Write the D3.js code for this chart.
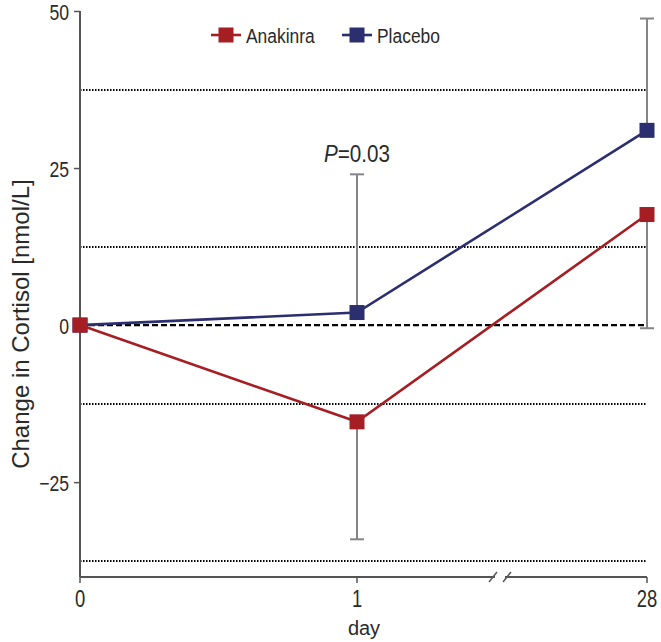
<!DOCTYPE html>
<html><head><meta charset="utf-8">
<script src="https://cdn.jsdelivr.net/npm/d3@7"></script>
<style>body{margin:0;background:#fff}svg{display:block}</style>
</head><body>
<script>
const days = ["0", "1", "28"];
const anakinra = [0, -15.4, 17.6];
const placebo = [0, 2.0, 31.0];
const anakinraErrLow = [null, -34.1, -0.5];
const placeboErrHigh = [null, 24.0, 48.8];
const yTicks = [-25, 0, 25, 50];
const refLines = [37.5, 12.5, -12.5, -37.5];

const W = 661, H = 642;
const svg = d3.select("body").append("svg").attr("width", W).attr("height", H);
const font = "'Liberation Sans', Arial, sans-serif";
const red = "#a51e24", navy = "#2b2e6f", gray = "#858585", axisCol = "#555", txt = "#2a2a2a";

const y = d3.scaleLinear().domain([-40.1, 50]).range([577, 11]);
const x = d3.scaleLinear().domain([0, 1, 2]).range([80, 357, 647]);

// reference lines
svg.selectAll(".ref").data(refLines).join("line")
  .attr("x1", x(0)).attr("x2", x(2)).attr("y1", d => Math.round(y(d))).attr("y2", d => Math.round(y(d)))
  .attr("stroke", "#000").attr("stroke-width", 2).attr("stroke-dasharray", "1.5,1.5");
svg.append("line").attr("x1", x(0)).attr("x2", x(2)).attr("y1", y(0)).attr("y2", y(0))
  .attr("stroke", "#000").attr("stroke-width", 2.4).attr("stroke-dasharray", "6,3");

// y axis
const sx = 0.8;
const yAxis = svg.append("g").attr("transform", `translate(${x(0)},0)`)
  .call(d3.axisLeft(y).tickValues(yTicks).tickSize(6).tickPadding(5)
    .tickFormat(d => d < 0 ? "\u2212" + Math.abs(d) : d));
yAxis.select(".domain").attr("stroke", axisCol).attr("stroke-width", 2).attr("d", `M0,${y(50)}V${y(-40.1)}`);
yAxis.selectAll(".tick line").attr("stroke", axisCol).attr("stroke-width", 1.5);
yAxis.selectAll("text").attr("font-family", font).attr("font-size", 22).attr("fill", txt)
  .attr("x", -11 / sx).attr("dy", "0.38em").attr("transform", `scale(${sx},1)`);

// x axis
const xAxisG = svg.append("g").attr("transform", `translate(0,${y(-40.1)})`);
const breakX = [493, 507];
xAxisG.append("path").attr("d", `M${x(0)},0H${breakX[0]+2}M${breakX[1]-2},0H${x(2)}`)
  .attr("stroke", axisCol).attr("stroke-width", 2).attr("fill", "none");
breakX.forEach(bx => xAxisG.append("line").attr("x1", bx - 4).attr("x2", bx + 4).attr("y1", 5).attr("y2", -5)
  .attr("stroke", axisCol).attr("stroke-width", 1.5));
const xt = xAxisG.selectAll(".xt").data(days).join("g").attr("transform", (d, i) => `translate(${x(i)},0)`);
xt.append("line").attr("y1", 0).attr("y2", 6).attr("stroke", axisCol).attr("stroke-width", 1.5);
xt.append("text").attr("y", 30).attr("transform", `scale(${sx},1)`).attr("text-anchor", "middle")
  .attr("font-family", font).attr("font-size", 23).attr("fill", txt).text(d => d);

// labels
svg.append("text").attr("x", 364).attr("y", 635).attr("text-anchor", "middle")
  .attr("font-family", font).attr("font-size", 20).attr("fill", txt).text("day");
svg.append("text").attr("transform", `translate(29,${y(0)-1}) rotate(-90)`).attr("text-anchor", "middle")
  .attr("font-family", font).attr("font-size", 24).attr("fill", txt).text("Change in Cortisol [nmol/L]");

// error bars
function errBars(vals, ends) {
  ends.forEach((e, i) => {
    if (e === null) return;
    svg.append("line").attr("x1", x(i)).attr("x2", x(i)).attr("y1", y(vals[i])).attr("y2", y(e))
      .attr("stroke", gray).attr("stroke-width", 2);
    svg.append("line").attr("x1", x(i) - 7).attr("x2", x(i) + 7).attr("y1", y(e)).attr("y2", y(e))
      .attr("stroke", gray).attr("stroke-width", 2);
  });
}
errBars(anakinra, anakinraErrLow);
errBars(placebo, placeboErrHigh);

// series
const line = d3.line().x((d, i) => x(i)).y(d => y(d));
function series(vals, col) {
  svg.append("path").datum(vals).attr("d", line).attr("fill", "none").attr("stroke", col).attr("stroke-width", 2.6);
  svg.selectAll(null).data(vals).join("rect")
    .attr("x", (d, i) => x(i) - 7.5).attr("y", d => y(d) - 7.5).attr("width", 15).attr("height", 15).attr("fill", col);
}
series(placebo, navy);
series(anakinra, red);

// P value
const ps = 0.86;
const pt = svg.append("text").attr("x", x(1) / ps).attr("y", 162).attr("transform", `scale(${ps},1)`).attr("text-anchor", "middle")
  .attr("font-family", font).attr("font-size", 24).attr("fill", txt);
pt.append("tspan").attr("font-style", "italic").text("P");
pt.append("tspan").text("=0.03");

// legend
const ls = 0.83;
const legend = [{name: "Anakinra", col: red, x: 211}, {name: "Placebo", col: navy, x: 342}];
const lg = svg.selectAll(".lg").data(legend).join("g").attr("transform", d => `translate(${d.x},35)`);
lg.append("line").attr("x1", 0).attr("x2", 30).attr("stroke", d => d.col).attr("stroke-width", 2.6);
lg.append("rect").attr("x", 7.5).attr("y", -7.5).attr("width", 15).attr("height", 15).attr("fill", d => d.col);
lg.append("text").attr("x", 35 / ls).attr("y", 8).attr("transform", `scale(${ls},1)`)
  .attr("font-family", font).attr("font-size", 21).attr("fill", txt).text(d => d.name);
</script>
</body></html>
